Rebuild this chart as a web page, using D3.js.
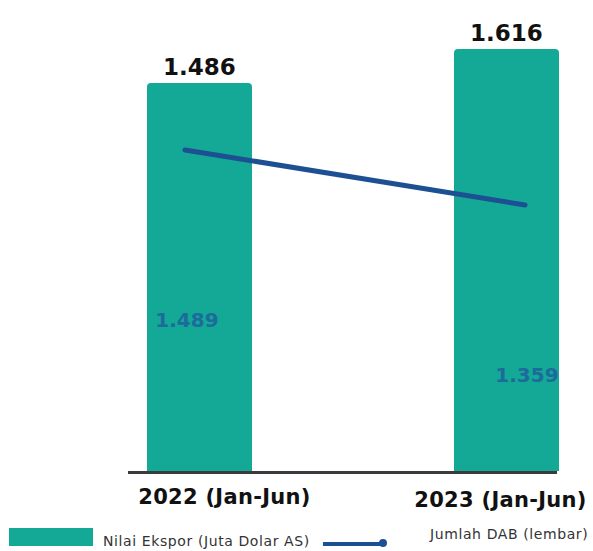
<!DOCTYPE html>
<html>
<head>
<meta charset="utf-8">
<script src="https://cdn.jsdelivr.net/npm/d3@7"></script>
<style>
    body { margin: 0; background: #fff; }
    svg { display: block; }
</style>
</head>
<body>
<div id="figure"></div>
<script>
var categories = ["2022 (Jan-Jun)", "2023 (Jan-Jun)"];
var barValues = [1486, 1616];
var lineValues = [1489, 1359];
var barLabels = ["1.486", "1.616"];
var lineLabels = ["1.489", "1.359"];
var legendLabels = ["Nilai Ekspor (Juta Dolar AS)", "Jumlah DAB (lembar)"];

var teal = "#14a897";
var navy = "#1d4f93";

function drawChart() {
    var svg = d3.select("#figure")
        .append("svg")
        .attr("width", 593)
        .attr("height", 551);

    var x = d3.scaleBand()
        .domain(categories)
        .range([147, 559])
        .paddingInner(0.658)
        .paddingOuter(0);

    // line sits on its own x positions
    var xLine = d3.scalePoint()
        .domain(categories)
        .range([185, 525]);

    var y = d3.scaleLinear()
        .domain([0, 1486])
        .range([471, 83]);

    // secondary axis for the line
    var y2 = d3.scaleLinear()
        .domain([1100, 1700])
        .range([314.6, 60.7]);

    var font = "'DejaVu Sans', sans-serif";

    // bars with slightly rounded tops
    svg.selectAll("path.bar")
        .data(categories)
        .enter()
        .append("path")
        .attr("class", "bar")
        .attr("fill", teal)
        .attr("d", (c, i) => {
            let x0 = x(c), w = x.bandwidth(), y0 = y(barValues[i]), y1 = y(0), r = 4;
            return `M${x0},${y1}V${y0 + r}Q${x0},${y0} ${x0 + r},${y0}H${x0 + w - r}Q${x0 + w},${y0} ${x0 + w},${y0 + r}V${y1}Z`;
        });

    // bar value labels
    svg.selectAll("text.bar-label")
        .data(categories)
        .enter()
        .append("text")
        .attr("x", c => x(c) + x.bandwidth() / 2)
        .attr("y", (c, i) => y(barValues[i]) - 8)
        .attr("text-anchor", "middle")
        .attr("font-family", font)
        .attr("font-weight", "bold")
        .attr("font-size", 23)
        .attr("fill", "#111")
        .text((c, i) => barLabels[i]);

    // axis line
    svg.append("line")
        .attr("x1", x.range()[0] - 19)
        .attr("x2", x.range()[1] - 2)
        .attr("y1", y(0) + 1.5)
        .attr("y2", y(0) + 1.5)
        .attr("stroke", "#3b3b3b")
        .attr("stroke-width", 3);

    // category labels
    var labelDx = [25, -6];
    var labelDy = [33, 36];
    svg.selectAll("text.cat")
        .data(categories)
        .enter()
        .append("text")
        .attr("x", (c, i) => x(c) + x.bandwidth() / 2 + labelDx[i])
        .attr("y", (c, i) => y(0) + labelDy[i])
        .attr("text-anchor", "middle")
        .attr("font-family", font)
        .attr("font-weight", "bold")
        .attr("font-size", 21)
        .attr("letter-spacing", 0.3)
        .attr("fill", "#111")
        .text(c => c);

    // line series
    var line = d3.line()
        .x((d, i) => xLine(categories[i]))
        .y(d => y2(d));

    svg.append("path")
        .datum(lineValues)
        .attr("d", line)
        .attr("fill", "none")
        .attr("stroke", navy)
        .attr("stroke-width", 5)
        .attr("stroke-linecap", "round");

    svg.selectAll("text.line-label")
        .data(lineValues)
        .enter()
        .append("text")
        .attr("x", (d, i) => xLine(categories[i]) + 2)
        .attr("y", d => y2(d) + 177)
        .attr("text-anchor", "middle")
        .attr("font-family", font)
        .attr("font-weight", "bold")
        .attr("font-size", 20)
        .attr("fill", "#1f5c9c")
        .attr("opacity", 0.8)
        .text((d, i) => lineLabels[i]);

    // legend
    var leg = svg.append("g")
        .attr("font-family", font)
        .attr("font-size", 14)
        .attr("letter-spacing", 0.6)
        .attr("fill", "#333");
    leg.append("rect")
        .attr("x", 9)
        .attr("y", 528)
        .attr("width", 84)
        .attr("height", 18)
        .attr("fill", teal);
    leg.append("text")
        .attr("x", 103)
        .attr("y", 546)
        .text(legendLabels[0]);
    leg.append("line")
        .attr("x1", 323)
        .attr("x2", 381)
        .attr("y1", 544)
        .attr("y2", 544)
        .attr("stroke", navy)
        .attr("stroke-width", 4);
    leg.append("circle")
        .attr("cx", 383)
        .attr("cy", 543)
        .attr("r", 4)
        .attr("fill", navy);
    leg.append("text")
        .attr("x", 430)
        .attr("y", 539)
        .text(legendLabels[1]);
}

drawChart();
</script>
</body>
</html>
